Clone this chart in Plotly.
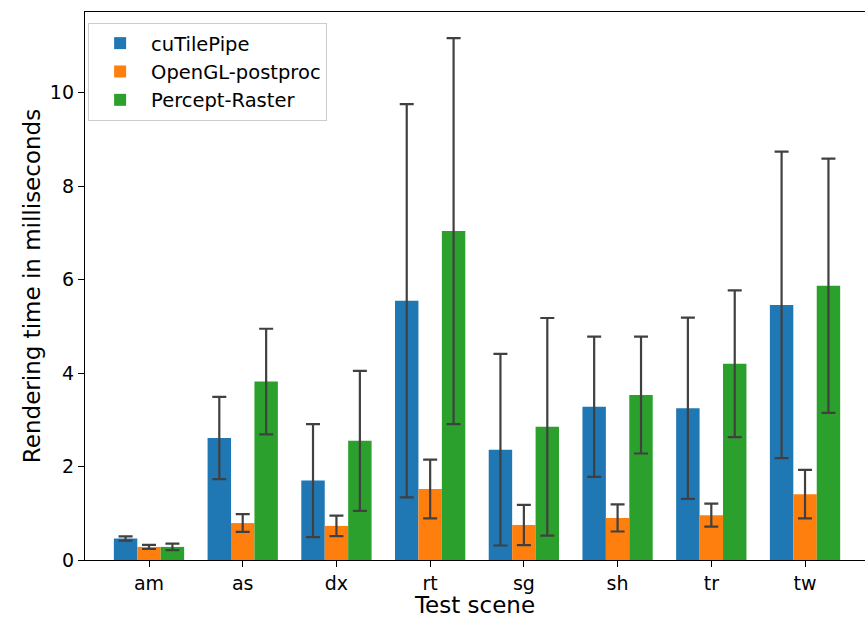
import plotly.graph_objects as go

scenes = ["am", "as", "dx", "rt", "sg", "sh", "tr", "tw"]
series_names = ["cuTilePipe", "OpenGL-postproc", "Percept-Raster"]

cutilepipe = [0.46, 2.61, 1.70, 5.55, 2.36, 3.28, 3.25, 5.46]
cutilepipe_err = [0.045, 0.88, 1.21, 4.21, 2.05, 1.50, 1.94, 3.28]

opengl = [0.28, 0.79, 0.73, 1.52, 0.75, 0.90, 0.96, 1.41]
opengl_err = [0.045, 0.19, 0.22, 0.63, 0.43, 0.29, 0.245, 0.52]

percept = [0.28, 3.82, 2.55, 7.04, 2.85, 3.53, 4.20, 5.87]
percept_err = [0.07, 1.13, 1.50, 4.13, 2.33, 1.25, 1.57, 2.72]

colors = ["#1f77b4", "#ff7f0e", "#2ca02c"]
values = [cutilepipe, opengl, percept]
errors = [cutilepipe_err, opengl_err, percept_err]

fig = go.Figure()
for i, (name, vals, errs) in enumerate(zip(series_names, values, errors)):
    fig.add_trace(go.Bar(
        x=list(range(len(scenes))), y=vals, name=name,
        marker=dict(color=colors[i], line=dict(width=0)),
        legendgroup=name,
        error_y=dict(type="data", array=errs, visible=True,
                     color="#404040", thickness=2.2, width=7),
    ))

fig.update_layout(
    width=865, height=618,
    margin=dict(l=85, r=0, t=12, b=58),
    plot_bgcolor="white", paper_bgcolor="white",
    barmode="group", bargap=0.25, bargroupgap=0,
    font=dict(family="DejaVu Sans", size=19.5, color="black"),
    showlegend=True,
    legend=dict(x=0.004, y=0.98, xanchor="left", yanchor="top",
                bgcolor="rgba(255,255,255,0.8)", bordercolor="#cccccc", borderwidth=1,
                font=dict(size=19.5), itemwidth=52, traceorder="grouped",
                tracegroupgap=0),
    xaxis=dict(
        tickmode="array", tickvals=list(range(len(scenes))), ticktext=scenes,
        range=[-0.683, 7.64],
        showline=True, linecolor="black", linewidth=1.3, mirror=True,
        ticks="outside", ticklen=6, tickcolor="black", tickwidth=1.3,
        tickfont=dict(size=19),
        showgrid=False, zeroline=False,
        title=dict(text="Test scene", standoff=7),
    ),
    yaxis=dict(
        range=[0, 11.73],
        tickvals=[0, 2, 4, 6, 8, 10],
        showline=True, linecolor="black", linewidth=1.3, mirror=False,
        ticks="outside", ticklen=6, tickcolor="black", tickwidth=1.3,
        tickfont=dict(size=19),
        showgrid=False, zeroline=False,
        title=dict(text="Rendering time in milliseconds", standoff=2),
    ),
)

fig.write_html("out.html")
